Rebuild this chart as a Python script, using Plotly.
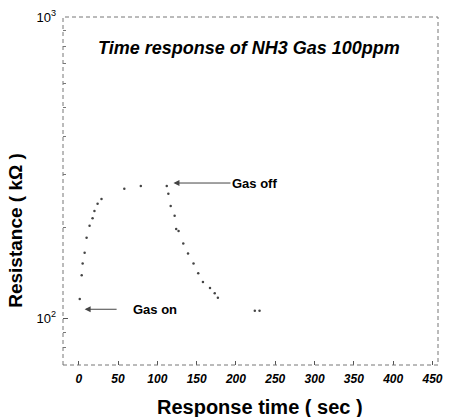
import plotly.graph_objects as go

# Data (time in s, resistance in kOhm)
time_s = [1.3, 3.8, 5, 7.5, 10, 13.8, 17.6, 20, 24, 29, 58, 79, 112,
          114, 117, 122, 124, 127, 133, 139, 146, 152, 158, 167, 173, 177, 224, 230]
resistance = [116, 139, 152, 165, 185, 203, 215, 227, 240, 249, 269, 275, 275,
              259, 236, 219, 198, 195, 177, 164, 152, 141, 132, 126, 121, 117, 106, 106]

x_ticks = [0, 50, 100, 150, 200, 250, 300, 350, 400, 450]
y_ticks = [100, 1000]
y_ticktext = ["10<sup>2</sup>", "10<sup>3</sup>"]

FONT = "Liberation Sans, Arial, sans-serif"

fig = go.Figure()
fig.add_trace(go.Scatter(
    x=time_s, y=resistance, mode="markers",
    marker=dict(size=2.5, color="#444444"),
    showlegend=False,
))

fig.update_layout(
    width=451, height=417,
    margin=dict(l=63, r=8, t=15, b=52),
    paper_bgcolor="white", plot_bgcolor="white",
    font=dict(family=FONT, color="black"),
    xaxis=dict(
        range=[-20, 457], tickvals=x_ticks, ticks="inside", ticklen=4,
        tickcolor="#555", showgrid=False, zeroline=False, showline=False,
        tickfont=dict(size=12, style="italic", weight="bold", family=FONT),
        ticklabelstandoff=5,
    ),
    yaxis=dict(
        type="log", range=[1.845, 3.0], tickvals=y_ticks, ticktext=y_ticktext,
        ticks="inside", ticklen=5, tickcolor="#555", showgrid=False,
        zeroline=False, showline=False,
        tickfont=dict(size=13, family=FONT), ticklabelstandoff=6,
        minor=dict(ticks="inside", ticklen=3, tickcolor="#777", dtick="D1", showgrid=False),
    ),
)

# dashed frame (scanned look)
fig.add_shape(type="rect", xref="paper", yref="paper", x0=0, y0=0, x1=1, y1=1,
              line=dict(color="#777", width=1, dash="4px,3px"))

# title inside the plot
fig.add_annotation(text="<b><i>Time response of NH3 Gas 100ppm</i></b>",
                   xref="paper", yref="paper", x=0.495, y=0.911,
                   xanchor="center", yanchor="middle",
                   showarrow=False, font=dict(size=18, family=FONT))

# axis titles
fig.add_annotation(text="<b>Response time ( sec )</b>", xref="paper", yref="paper",
                   x=0.526, y=-0.12, xanchor="center", yanchor="middle", showarrow=False,
                   font=dict(size=20, family=FONT))
fig.add_annotation(text="<b>Resistance ( kΩ )</b>", xref="paper", yref="paper",
                   x=-0.125, y=0.386, xanchor="center", yanchor="middle",
                   textangle=-90, showarrow=False,
                   font=dict(size=19, family=FONT))

# Gas off arrow + label
fig.add_annotation(x=120.5, y=2.449, xref="x", yref="y", text="<b>Gas off</b>",
                   xanchor="left", showarrow=True, ax=57, ay=0,
                   arrowhead=2, arrowsize=1.2, arrowwidth=1, arrowcolor="#444",
                   font=dict(size=13, family=FONT))

# Gas on arrow + label
fig.add_annotation(x=7.5, y=2.030, xref="x", yref="y", text="<b>Gas on</b>",
                   xanchor="left", showarrow=True, ax=46, ay=0, startstandoff=14,
                   arrowhead=2, arrowsize=1.2, arrowwidth=1, arrowcolor="#444",
                   font=dict(size=13, family=FONT))

fig.write_html("out.html")
